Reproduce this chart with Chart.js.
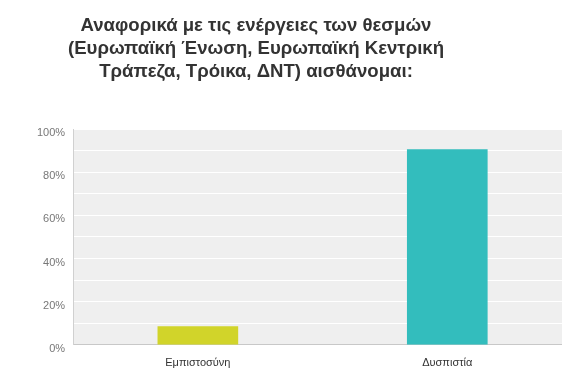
<!DOCTYPE html>
<html lang="el">
<head>
<meta charset="UTF-8">
<title>Θεσμοί</title>
<script src="https://cdn.jsdelivr.net/npm/chart.js"></script>
<style>
    body { margin: 0; background: #fff; overflow: hidden; }
    .box { width: 572px; height: 382px; }
</style>
</head>
<body>
<div class="box"><canvas id="grafico"></canvas></div>
<script>
    // dados
    const titulo = ['Αναφορικά με τις ενέργειες των θεσμών', '(Ευρωπαϊκή Ένωση, Ευρωπαϊκή Κεντρική', 'Τράπεζα, Τρόικα, ΔΝΤ) αισθάνομαι:'];
    const categorias = ['Εμπιστοσύνη', 'Δυσπιστία'];
    const valores = [8.5, 90.5];
    const cores = ['#d1d42a', '#33bdbd'];

    // fundo cinza da área do gráfico + título
    const fundo = {
        id: 'fundo',
        beforeDraw(chart) {
            const a = chart.chartArea;
            const ctx = chart.ctx;
            ctx.save();
            ctx.fillStyle = '#efefef';
            ctx.fillRect(a.left, a.top, a.right - a.left, a.bottom - a.top);
            ctx.restore();
        },
        afterDraw(chart) {
            const ctx = chart.ctx;
            ctx.save();
            ctx.fillStyle = '#333';
            ctx.font = 'bold 18.6px Arial, "Liberation Sans"';
            ctx.textAlign = 'center';
            ctx.textBaseline = 'middle';
            for (let i = 0; i < titulo.length; i++) {
                ctx.fillText(titulo[i], 256, 26 + i * 23);
            }
            ctx.restore();
        }
    };

    new Chart(document.getElementById('grafico'), {
        type: 'bar',
        data: {
            labels: categorias,
            datasets: [{
                data: valores,
                backgroundColor: cores,
                barThickness: 80
            }]
        },
        options: {
            responsive: true,
            maintainAspectRatio: false,
            animation: false,
            layout: { padding: { left: 29, right: 0, top: 129, bottom: 0 } },
            plugins: {
                legend: { display: false },
                tooltip: { enabled: false },
                title: { display: false }
            },
            scales: {
                x: {
                    grid: { display: false, drawTicks: false },
                    border: { color: '#c8c8c8' },
                    ticks: { color: '#333', padding: 12, font: { family: 'Arial, "Liberation Sans"', size: 11 } }
                },
                y: {
                    min: 0,
                    max: 100,
                    grid: { color: '#ffffff', lineWidth: 1, drawTicks: false },
                    border: { color: '#d0d0d0' },
                    ticks: {
                        stepSize: 10,
                        color: '#777',
                        padding: 8,
                        labelOffset: 4,
                        font: { family: 'Arial, "Liberation Sans"', size: 11 },
                        callback: function (v) { return v % 20 === 0 ? v + '%' : ''; }
                    }
                }
            }
        },
        plugins: [fundo]
    });
</script>
</body>
</html>
